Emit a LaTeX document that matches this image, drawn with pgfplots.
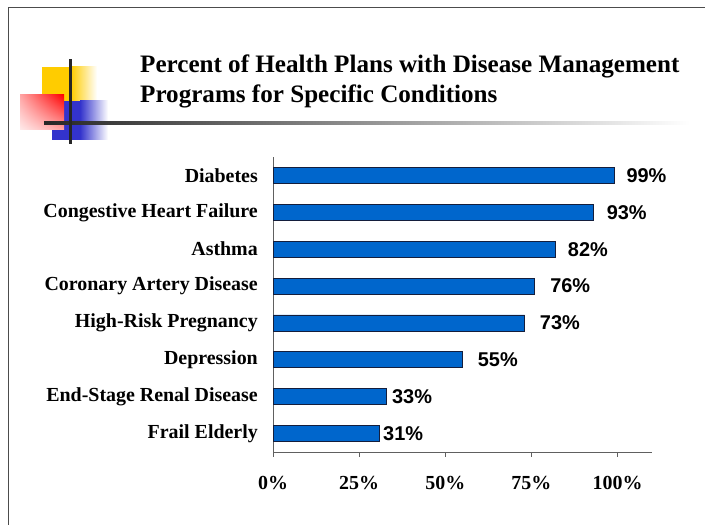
\documentclass[border=0pt]{standalone}
\usepackage{fontspec}
\setmainfont{Liberation Serif}
\newfontfamily\arialf{Liberation Sans}
\usepackage{pgfplots}
\pgfplotsset{compat=1.18}
\usetikzlibrary{shadings}
\definecolor{barblue}{RGB}{0,102,204}
\definecolor{baredge}{RGB}{20,30,60}
\definecolor{decoyellow}{RGB}{255,204,0}
\definecolor{decoblue}{RGB}{51,51,204}
\definecolor{decored}{RGB}{255,0,0}
\begin{document}
\begin{tikzpicture}[x=1bp,y=1bp]
\useasboundingbox (0,0) rectangle (705,525);
% frame
\draw[gray!60!black, line width=1bp] (8,0) -- (8,517) -- (705,517);
% decorations
\fill[decoyellow] (42,424) rectangle (71,458);
\shade[left color=decoyellow, right color=white] (71,424) rectangle (97,458);
\fill[decoblue] (52,385) rectangle (80,424);
\shade[left color=decoblue, right color=white] (80,385) rectangle (108,424);
\shade[upper right=decored, lower left=decored!8, upper left=decored!35, lower right=decored!35] (20,395) rectangle (64,430);
\shade[left color=black!85, right color=white] (44,400.5) rectangle (690,403.5);
\fill[black!85] (68.5,381) rectangle (71.5,466);
% title
\node[anchor=base west, inner sep=0pt, font=\fontsize{25.2}{30}\selectfont\bfseries] at (140,452) {Percent of Health Plans with Disease Management};
\node[anchor=base west, inner sep=0pt, font=\fontsize{25.2}{30}\selectfont\bfseries] at (140,422) {Programs for Specific Conditions};
\begin{axis}[
  at={(273bp,73bp)}, anchor=south west,
  scale only axis, width=379bp, height=295bp,
  xmin=0, xmax=110, ymin=-0.5, ymax=7.5,
  axis x line*=bottom, axis y line*=left,
  axis line style={-, draw=gray!75!black, line width=0.8bp},
  xtick={0,25,50,75,100},
  xticklabels={0\%,25\%,50\%,75\%,100\%},
  x tick style={draw=gray!75!black, line width=0.8bp},
  tick align=outside, major tick length=5bp,
  x tick label style={font=\fontsize{20}{24}\selectfont\bfseries, anchor=north, inner sep=0pt, yshift=-19bp},
  ytick={0,1,2,3,4,5,6,7},
  yticklabels={Frail Elderly,End-Stage Renal Disease,Depression,High-Risk Pregnancy,Coronary Artery Disease,Asthma,Congestive Heart Failure,Diabetes},
  y tick style={draw=none},
  y tick label style={font=\fontsize{20}{24}\selectfont\bfseries, anchor=east, inner sep=0pt, xshift=-10bp},
  xbar, bar width=16bp, bar shift=0pt,
  point meta=x,
  nodes near coords={\pgfmathprintnumber[assume math mode=true,fixed,precision=0]{\pgfplotspointmeta}\%},
  visualization depends on={\thisrow{off} \as \off},
  every node near coord/.append style={font=\arialf\fontsize{20}{24}\selectfont\bfseries, anchor=west, inner sep=0pt, xshift=\off bp, text=black},
  clip=false,
]
\addplot[fill=barblue, draw=baredge, line width=0.8bp] table[x=x, y=y] {
y x off
7 99 12
6 93 13
5 82 12
4 76 15
3 73 15
2 55 15
1 33 5
0 31 3
};
\end{axis}
\end{tikzpicture}
\end{document}
